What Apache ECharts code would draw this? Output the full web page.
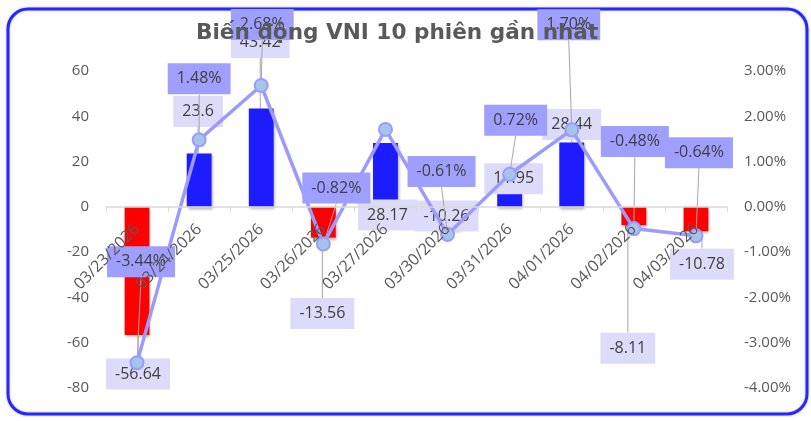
<!DOCTYPE html>
<html>
<head>
<meta charset="utf-8">
<script src="https://cdn.jsdelivr.net/npm/echarts@6.0.0/dist/echarts.min.js"></script>
<style>
  html, body { margin: 0; padding: 0; background: #fff; }
  #chart { width: 811px; height: 421px; }
</style>
</head>
<body>
<div id="chart"></div>
<script>
// du lieu 10 phien
const days = ['03/23/2026', '03/24/2026', '03/25/2026', '03/26/2026', '03/27/2026',
  '03/30/2026', '03/31/2026', '04/01/2026', '04/02/2026', '04/03/2026']
const points = [-56.64, 23.6, 43.42, -13.56, 28.17, -10.26, 11.95, 28.44, -8.11, -10.78]
const percents = [-3.44, 1.48, 2.68, -0.82, 1.71, -0.61, 0.72, 1.70, -0.48, -0.64]
const leftTicks = { min: -80, max: 60, interval: 20 }
const rightTicks = { min: -4, max: 3, interval: 1 }

// vi tri nhan (lech so voi diem), null = an
const pointLabelShift = [[1, 39], [-1, -42], [-1, -66], [-1, 76], [2, 72], [-1, -14], [4, -1], [0, -18], [-6, 123], [6, 33]]
const percentLabelShift = [[4, -101], [0, -61], [1, -61], [13, -56], null, [-6, -63], [6, -54], [-3, -105], [1, -87], [3, -83]]

const FONT = 'Open Sans'
const GRID = { left: 106, right: 84, top: 71, bottom: 33 }
const plotH = 421 - GRID.top - GRID.bottom
// dua truc ngang len muc 0
const zeroShift = -plotH * (0 - leftTicks.min) / (leftTicks.max - leftTicks.min)

const chart = echarts.init(document.getElementById('chart'))

const dataLabel = {
  show: true,
  color: '#404040', fontSize: 16, lineHeight: 19, fontFamily: FONT,
  padding: [6, 9]
}

const option = {
  backgroundColor: '#fff',
  animation: false,
  title: {
    text: 'Biến động VNI 10 phiên gần nhất',
    left: 191,
    top: 17,
    textStyle: { fontFamily: 'DejaVu Sans', fontWeight: 'bold', fontSize: 21.6, color: '#595959' }
  },
  graphic: [{
    type: 'rect',
    shape: { x: 8, y: 9, width: 799, height: 405, r: 20 },
    style: { fill: 'none', stroke: '#2626ff', lineWidth: 3, shadowColor: 'rgba(0,0,0,0.25)', shadowBlur: 3 },
    z: -1
  }],
  grid: Object.assign({ containLabel: false, outerBoundsMode: 'none' }, GRID),
  xAxis: {
    type: 'category',
    data: days,
    offset: zeroShift,
    z: 10,
    axisLine: { onZero: false, lineStyle: { color: '#d9d9d9', width: 1.5 } },
    axisTick: { show: true, length: 5, lineStyle: { color: '#d9d9d9' } },
    axisLabel: { rotate: 45, margin: 20, color: '#595959', fontSize: 16, fontFamily: FONT }
  },
  yAxis: [
    {
      type: 'value',
      min: leftTicks.min, max: leftTicks.max, interval: leftTicks.interval,
      splitLine: { show: false },
      axisLine: { show: false },
      axisLabel: { color: '#595959', fontSize: 15, fontFamily: FONT, margin: 17 }
    },
    {
      type: 'value',
      min: rightTicks.min, max: rightTicks.max, interval: rightTicks.interval,
      splitLine: { show: false },
      axisLine: { show: false },
      axisLabel: {
        color: '#595959', fontSize: 15, fontFamily: FONT, margin: 17,
        formatter: (v) => v.toFixed(2) + '%'
      }
    }
  ],
  series: [
    {
      type: 'bar',
      yAxisIndex: 0,
      barWidth: '40%',
      z: 2,
      data: points,
      itemStyle: {
        color: (p) => (p.value >= 0 ? '#1c1cff' : '#ff0000'),
        shadowColor: 'rgba(0,0,0,0.35)', shadowBlur: 3, shadowOffsetX: 1, shadowOffsetY: 2
      },
      label: Object.assign({ position: 'inside', backgroundColor: '#dcdcfa' }, dataLabel),
      labelLine: { show: true, lineStyle: { color: '#a6a6a6', width: 1 } },
      labelLayout: (params) => {
        const s = pointLabelShift[params.dataIndex]
        const r = params.rect
        const v = points[params.dataIndex]
        const ax = r.x + r.width / 2
        const ay = v >= 0 ? r.y : r.y + r.height
        return { x: ax + s[0], y: ay + s[1], align: 'center', verticalAlign: 'middle' }
      }
    },
    {
      type: 'line',
      yAxisIndex: 1,
      z: 3,
      data: percents.map((p, i) => ({ value: p, label: { show: percentLabelShift[i] !== null } })),
      lineStyle: { color: '#9b9bff', width: 3.5 },
      itemStyle: { color: '#a6c4ea', borderColor: '#9b9bff', borderWidth: 2 },
      symbol: 'circle',
      symbolSize: 13,
      label: Object.assign({
        position: 'top',
        backgroundColor: '#9f9fff',
        formatter: (p) => p.value.toFixed(2) + '%'
      }, dataLabel),
      labelLine: { show: true, lineStyle: { color: '#a6a6a6', width: 1 } },
      labelLayout: (params) => {
        const s = percentLabelShift[params.dataIndex]
        if (!s) return {}
        const r = params.rect
        const ax = r.x + r.width / 2
        const ay = r.y + r.height / 2
        return { x: ax + s[0], y: ay + s[1], align: 'center', verticalAlign: 'middle' }
      }
    }
  ]
}

chart.setOption(option)
</script>
</body>
</html>
